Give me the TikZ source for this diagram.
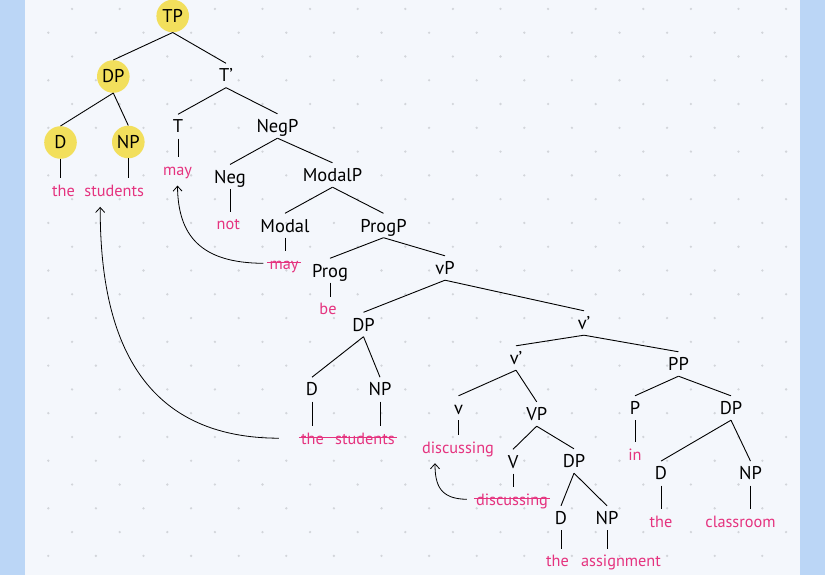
\documentclass[tikz,border=0pt]{standalone}
\usepackage{fontspec}
\setmainfont{PT Sans}
\usetikzlibrary{arrows.meta,calc}
\definecolor{band}{HTML}{BBD6F6}
\definecolor{panel}{HTML}{F4F7FC}
\definecolor{dotc}{HTML}{D2D5DA}
\definecolor{hl}{HTML}{F2DF5C}
\definecolor{pk}{HTML}{E5337F}
\newcommand\prm{\char"0027}
\begin{document}
\begin{tikzpicture}[x=1pt,y=-1pt,
 lab/.style={font=\fontsize{18.5}{18.5}\selectfont, text height=13pt, text depth=0pt, inner xsep=1pt, inner ysep=5.5pt, anchor=center},
 hi/.style={circle, fill=hl, minimum size=32.6pt, inner sep=0pt, font=\fontsize{18.5}{18.5}\selectfont},
 leaf/.style={text=pk, font=\fontsize{16.3}{16.3}\selectfont, text height=11pt, text depth=3pt, inner xsep=2pt, inner ysep=7pt, anchor=base},
 edge/.style={line width=0.9pt, black},
 strike/.style={pk, line width=1.1pt},
 move/.style={line width=0.8pt, -{Straight Barb[length=5pt,width=9pt]}},
]
\useasboundingbox (0,0) rectangle (825,575);
\fill[band] (0,0) rectangle (825,575);
\fill[panel] (25,0) rectangle (799.5,575);
\foreach \i in {0,...,31}{
  \foreach \j in {-1,...,22}{
    \pgfmathtruncatemacro\s{mod(\i+\j+2,2)}
    \ifnum\s=0 \fill[dotc] (48.3+23.8*\i, 32.7+23.78*\j) circle[radius=1.3pt]; \fi
  }
}
% highlighted nodes
\node[hi] (tp) at (172.7,16) {TP};
\node[hi] (dp) at (113.3,76.5) {DP};
\node[hi] (d1) at (60.5,142.5) {D};
\node[hi] (np1) at (128.3,142) {NP};
% labels
\node[lab] (tbar) at (226,75.5) {T\prm};
\node[lab] (t) at (178,126.5) {T};
\node[lab] (negp) at (277.5,126) {NegP};
\node[lab] (neg) at (230,176.7) {Neg};
\node[lab] (modalp) at (332.5,175) {ModalP};
\node[lab] (modal) at (285,225.5) {Modal};
\node[lab] (progp) at (383.5,225.5) {ProgP};
\node[lab] (prog) at (330,270.5) {Prog};
\node[lab] (vp) at (445,268) {vP};
\node[lab] (dp2) at (363.5,324.5) {DP};
\node[lab] (vbar1) at (584,323) {v\prm};
\node[lab] (d2) at (312,389.4) {D};
\node[lab] (np2) at (380,389.4) {NP};
\node[lab] (vbar2) at (516,358) {v\prm};
\node[lab] (pp) at (678.5,364) {PP};
\node[lab] (v) at (458.5,408) {v};
\node[lab] (vp2) at (536.7,414) {VP};
\node[lab] (p) at (635,408) {P};
\node[lab] (dp3) at (731,408) {DP};
\node[lab] (vv) at (513,461.5) {V};
\node[lab] (dp4) at (574,461) {DP};
\node[lab] (d3) at (661,473.3) {D};
\node[lab] (np3) at (750.5,473.3) {NP};
\node[lab] (d4) at (561,518) {D};
\node[lab] (np4) at (607,518) {NP};
% leaves
\node[leaf] (the1) at (63.5,196.7) {the};
\node[leaf] (stu1) at (114.2,196.7) {students};
\node[leaf] (may1) at (177.5,175.4) {may};
\node[leaf] (not) at (228.3,229.7) {not};
\node[leaf] (may2) at (284,269.3) {may};
\node[leaf] (be) at (328,314.8) {be};
\node[leaf] (the2) at (312.5,444.2) {the};
\node[leaf] (stu2) at (365,444.2) {students};
\node[leaf] (disc1) at (458,453) {discussing};
\node[leaf] (in) at (635,460) {in};
\node[leaf] (disc2) at (512,505.3) {discussing};
\node[leaf] (the3) at (661,527.5) {the};
\node[leaf] (class) at (740.5,527.5) {classroom};
\node[leaf] (the4) at (557.5,566.7) {the};
\node[leaf] (assign) at (621,566.7) {assignment};
% branching edges
\foreach \a/\b in {tp/dp, tp/tbar, dp/d1, dp/np1, tbar/t, tbar/negp, negp/neg, negp/modalp,
  modalp/modal, modalp/progp, progp/prog, progp/vp, vp/dp2, vp/vbar1, dp2/d2, dp2/np2,
  vbar1/vbar2, vbar1/pp, vbar2/v, vbar2/vp2, vp2/vv, vp2/dp4, dp4/d4, dp4/np4, pp/p, pp/dp3,
  dp3/d3, dp3/np3}
  \draw[edge] (\a.south) -- (\b.north);
% lines to leaves
\foreach \a/\b in {d1/the1, np1/stu1, t/may1, neg/not, modal/may2, prog/be, d2/the2, np2/stu2,
  v/disc1, p/in, vv/disc2, d3/the3, np3/class, d4/the4, np4/assign}
  \draw[edge] (\a.south) -- (\a.south |- \b.north);
% struck copies
\draw[strike] ([yshift=2.5pt]may2.west) -- ([yshift=2.5pt]may2.east);
\draw[strike] ([yshift=2.5pt]the2.west) -- ([yshift=2.5pt]stu2.east);
\draw[strike] ([yshift=2.5pt]disc2.west) -- ([yshift=2.5pt]disc2.east);
% movement arrows
\draw[move] ([xshift=-20pt,yshift=2pt]the2.west) .. controls (130,438) and (100,320) .. ([xshift=-14pt]stu1.south);
\draw[move] ([xshift=-4pt,yshift=2pt]may2.west) .. controls (200,263) and (178,235) .. (may1.south);
\draw[move] ([xshift=-7pt,yshift=2pt]disc2.west) .. controls (440,499) and (435,485) .. ([xshift=-23pt]disc1.south);
\end{tikzpicture}
\end{document}
